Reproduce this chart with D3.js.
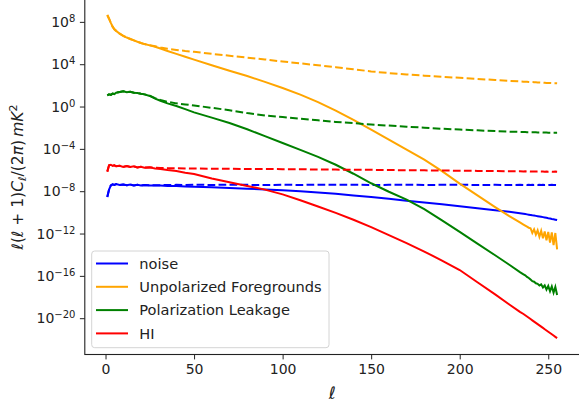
<!DOCTYPE html>
<html>
<head>
<meta charset="utf-8">
<title>Angular power spectra</title>
<script src="https://d3js.org/d3.v7.min.js"></script>
<style>
    body { margin: 0; background: #fff; }
    svg text { font-family: 'DejaVu Sans', sans-serif; fill: #222; }
</style>
</head>
<body>
<div class="svg-container"></div>
<script>
// multipoles, then log10 of l(l+1)C_l/(2pi) for each curve (solid = total, dashed = input)
const ell = [1, 2, 3, 4, 5, 6, 8, 10, 12, 14,
    16, 18, 20, 22, 25, 28, 31, 35, 40, 45,
    50, 60, 70, 80, 90, 100, 110, 120, 130, 140,
    150, 160, 170, 180, 190, 200, 210, 220, 228, 234,
    236, 237, 238, 239, 240, 241, 242, 243, 244, 245,
    246, 247, 248, 249, 250, 251, 252, 253, 254, 255]

const noiseSolid = [-8.55, -7.85, -7.45, -7.35, -7.40, -7.33, -7.42, -7.36, -7.44, -7.38,
    -7.45, -7.40, -7.46, -7.42, -7.45, -7.47, -7.46, -7.50, -7.52, -7.55,
    -7.57, -7.62, -7.70, -7.76, -7.83, -7.90, -8.00, -8.12, -8.25, -8.40,
    -8.55, -8.72, -8.90, -9.07, -9.24, -9.42, -9.60, -9.80, -9.95, -10.08,
    -10.13, -10.16, -10.19, -10.22, -10.25, -10.28, -10.30, -10.33, -10.36, -10.39,
    -10.42, -10.45, -10.48, -10.51, -10.55, -10.58, -10.62, -10.65, -10.69, -10.73]
const noiseDashed = [-8.55, -7.85, -7.45, -7.35, -7.40, -7.33, -7.42, -7.36, -7.44, -7.38,
    -7.45, -7.40, -7.46, -7.42, -7.45, -7.44, -7.43, -7.42, -7.40, -7.42,
    -7.39, -7.41, -7.38, -7.40, -7.42, -7.39, -7.41, -7.38, -7.40, -7.39,
    -7.41, -7.40, -7.38, -7.41, -7.40, -7.39, -7.41, -7.40, -7.42, -7.40,
    -7.41, -7.40, -7.42, -7.39, -7.41, -7.40, -7.42, -7.40, -7.41, -7.39,
    -7.42, -7.40, -7.41, -7.40, -7.42, -7.41, -7.40, -7.42, -7.41, -7.42]

const unpolSolid = [8.65, 8.30, 7.90, 7.55, 7.30, 7.15, 6.88, 6.68, 6.52, 6.38,
    6.25, 6.12, 6.00, 5.90, 5.78, 5.65, 5.48, 5.25, 4.98, 4.70,
    4.43, 3.90, 3.38, 2.88, 2.33, 1.75, 1.12, 0.42, -0.38, -1.25,
    -2.18, -3.13, -4.08, -5.02, -6.10, -7.28, -8.40, -9.50, -10.35, -10.95,
    -11.15, -11.25, -11.35, -11.45, -11.50, -11.95, -11.60, -12.10, -11.70, -12.30,
    -11.75, -12.45, -11.80, -12.65, -11.85, -12.85, -11.90, -13.10, -11.95, -13.50]
const unpolDashed = [8.65, 8.30, 7.90, 7.55, 7.30, 7.15, 6.88, 6.68, 6.52, 6.38,
    6.25, 6.12, 6.00, 5.90, 5.80, 5.70, 5.58, 5.46, 5.35, 5.25,
    5.17, 4.98, 4.80, 4.62, 4.45, 4.25, 4.08, 3.90, 3.72, 3.52,
    3.32, 3.16, 3.03, 2.92, 2.81, 2.71, 2.61, 2.51, 2.43, 2.37,
    2.35, 2.34, 2.34, 2.33, 2.32, 2.31, 2.30, 2.29, 2.28, 2.27,
    2.26, 2.25, 2.24, 2.23, 2.22, 2.22, 2.21, 2.20, 2.20, 2.19]

const leakSolid = [1.05, 1.15, 1.10, 1.22, 1.18, 1.30, 1.38, 1.45, 1.35, 1.40,
    1.30, 1.28, 1.20, 1.15, 1.00, 0.75, 0.55, 0.30, 0.05, -0.25,
    -0.55, -1.05, -1.55, -2.15, -2.80, -3.45, -4.10, -4.75, -5.50, -6.35,
    -7.25, -8.05, -8.80, -9.70, -10.75, -11.85, -12.95, -14.05, -14.95, -15.65,
    -15.85, -15.95, -16.10, -16.20, -16.35, -16.50, -16.55, -16.70, -16.75, -16.90,
    -16.80, -17.10, -16.90, -17.30, -16.95, -17.45, -17.00, -17.60, -17.05, -17.80]
const leakDashed = [1.05, 1.15, 1.10, 1.22, 1.18, 1.30, 1.38, 1.45, 1.35, 1.40,
    1.30, 1.28, 1.20, 1.15, 1.02, 0.80, 0.62, 0.45, 0.30, 0.20,
    0.10, -0.12, -0.35, -0.62, -0.85, -1.00, -1.15, -1.30, -1.45, -1.57,
    -1.70, -1.80, -1.90, -2.00, -2.10, -2.18, -2.25, -2.32, -2.37, -2.40,
    -2.41, -2.41, -2.42, -2.42, -2.43, -2.43, -2.44, -2.44, -2.45, -2.45,
    -2.45, -2.46, -2.46, -2.46, -2.47, -2.47, -2.47, -2.48, -2.48, -2.48]

const hiSolid = [-6.15, -5.55, -5.50, -5.60, -5.55, -5.65, -5.60, -5.70, -5.62, -5.72,
    -5.65, -5.75, -5.70, -5.78, -5.75, -5.85, -5.90, -6.00, -6.10, -6.25,
    -6.38, -6.80, -7.15, -7.50, -7.85, -8.30, -8.85, -9.45, -10.05, -10.70,
    -11.40, -12.15, -12.90, -13.70, -14.55, -15.45, -16.60, -17.75, -18.70, -19.40,
    -19.60, -19.72, -19.84, -19.96, -20.08, -20.20, -20.32, -20.44, -20.56, -20.68,
    -20.80, -20.92, -21.04, -21.16, -21.28, -21.40, -21.52, -21.64, -21.76, -21.88]
const hiDashed = [-6.15, -5.55, -5.50, -5.60, -5.55, -5.65, -5.60, -5.70, -5.62, -5.72,
    -5.65, -5.75, -5.70, -5.76, -5.74, -5.78, -5.80, -5.82, -5.83, -5.85,
    -5.86, -5.87, -5.88, -5.90, -5.90, -5.92, -5.93, -5.95, -5.96, -5.97,
    -5.98, -6.00, -6.02, -6.03, -6.05, -6.06, -6.08, -6.10, -6.12, -6.12,
    -6.13, -6.12, -6.14, -6.13, -6.14, -6.15, -6.14, -6.15, -6.14, -6.16,
    -6.15, -6.14, -6.16, -6.15, -6.16, -6.15, -6.16, -6.17, -6.15, -6.16]

const labels = ['noise', 'Unpolarized Foregrounds', 'Polarization Leakage', 'HI']
const colors = ['blue', 'orange', 'green', 'red']
const xTicks = [0, 50, 100, 150, 200, 250]
const yTickExps = [8, 4, 0, -4, -8, -12, -16, -20]

const series = [
    { solid: noiseSolid, dashed: noiseDashed },
    { solid: unpolSolid, dashed: unpolDashed },
    { solid: leakSolid, dashed: leakDashed },
    { solid: hiSolid, dashed: hiDashed }
].map((s, i) => ({ ...s, label: labels[i], color: colors[i] }))

const w = 579, h = 407
const box = { left: 84.8, right: 579.6, top: -1.2, bottom: 354.5 }

const svg = d3.select('.svg-container')
    .append('svg')
    .attr('width', w)
    .attr('height', h)

const x = d3.scaleLinear()
    .domain([-11.7, 267.7])
    .range([box.left, box.right])

const y = d3.scaleLog()
    .domain([Math.pow(10, -23.43), Math.pow(10, 10.18)])
    .range([box.bottom, box.top])

svg.append('clipPath')
    .attr('id', 'plot-clip')
    .append('rect')
    .attr('x', box.left)
    .attr('y', box.top)
    .attr('width', box.right - box.left)
    .attr('height', box.bottom - box.top)

const line = d3.line()
    .x((d) => x(d[0]))
    .y((d) => y(Math.pow(10, d[1])))

const plot = svg.append('g').attr('clip-path', 'url(#plot-clip)')

series.forEach((s) => {
    plot.append('path')
        .datum(ell.map((l, i) => [l, s.solid[i]]))
        .attr('d', line)
        .attr('fill', 'none')
        .attr('stroke', s.color)
        .attr('stroke-width', 2)
    plot.append('path')
        .datum(ell.map((l, i) => [l, s.dashed[i]]))
        .attr('d', line)
        .attr('fill', 'none')
        .attr('stroke', s.color)
        .attr('stroke-width', 2)
        .attr('stroke-dasharray', '7.7,3.3')
})

// axes
const xAxis = svg.append('g')
    .attr('transform', `translate(0,${box.bottom})`)
    .call(d3.axisBottom(x).tickValues(xTicks).tickSize(4.9).tickPadding(4.5))
xAxis.select('.domain').remove()
xAxis.selectAll('text').style('font-size', '14px')

const yAxis = svg.append('g')
    .attr('transform', `translate(${box.left},0)`)
    .call(d3.axisLeft(y).tickValues(yTickExps.map((e) => Math.pow(10, e))).tickSize(4.9).tickPadding(4.5).tickFormat(''))
yAxis.select('.domain').remove()
yAxis.selectAll('.tick text').each(function (d) {
    const e = Math.round(Math.log10(d))
    const t = d3.select(this).style('font-size', '14px')
    t.append('tspan').text('10')
    t.append('tspan')
        .attr('dy', '-0.5em')
        .style('font-size', '10px')
        .text(e < 0 ? '\u2212' + (-e) : String(e))
})
svg.selectAll('.tick line').attr('stroke', '#222').attr('stroke-width', 1)

svg.append('rect')
    .attr('x', box.left)
    .attr('y', box.top)
    .attr('width', box.right - box.left)
    .attr('height', box.bottom - box.top)
    .attr('fill', 'none')
    .attr('stroke', '#222')
    .attr('stroke-width', 1.1)

// axis labels
svg.append('text')
    .attr('x', (box.left + box.right) / 2)
    .attr('y', 399)
    .attr('text-anchor', 'middle')
    .style('font-size', '17px')
    .style('font-style', 'italic')
    .text('\u2113')

const yl = svg.append('text')
    .attr('transform', 'translate(23,177) rotate(-90)')
    .attr('text-anchor', 'middle')
    .style('font-size', '15.5px')
const parts = [
    ['\u2113', 'i'], ['(', 'n'], ['\u2113', 'i'], [' + 1)', 'n'], ['C', 'i'], ['\u2113', 'sub'],
    ['/(2', 'n'], ['\u03c0', 'i'], [')\u2009', 'n'], ['mK', 'i'], ['2', 'sup']
]
let shift = 0
parts.forEach(([txt, kind]) => {
    const ts = yl.append('tspan').text(txt)
    let target = 0
    if (kind === 'sub') target = 3
    if (kind === 'sup') target = -6.5
    if (target !== shift) { ts.attr('dy', target - shift); shift = target }
    if (kind === 'i' || kind === 'sub') ts.style('font-style', 'italic')
    if (kind === 'sub' || kind === 'sup') ts.style('font-size', '11px')
})

// legend
const legend = svg.append('g').attr('id', 'legend')
legend.append('rect')
    .attr('x', 91.7)
    .attr('y', 251)
    .attr('width', 237.3)
    .attr('height', 96.7)
    .attr('rx', 3)
    .attr('fill', 'rgba(255,255,255,0.8)')
    .attr('stroke', '#d4d4d4')
    .attr('stroke-width', 1)

legend.selectAll('line')
    .data(series)
    .enter()
    .append('line')
    .attr('x1', 96)
    .attr('x2', 128)
    .attr('y1', (d, i) => 263.5 + i * 23.3)
    .attr('y2', (d, i) => 263.5 + i * 23.3)
    .attr('stroke', (d) => d.color)
    .attr('stroke-width', 2)

legend.selectAll('text')
    .data(series)
    .enter()
    .append('text')
    .attr('x', 139.3)
    .attr('y', (d, i) => 263.5 + i * 23.3)
    .attr('dy', '0.36em')
    .style('font-size', '14.6px')
    .text((d) => d.label)
</script>
</body>
</html>
